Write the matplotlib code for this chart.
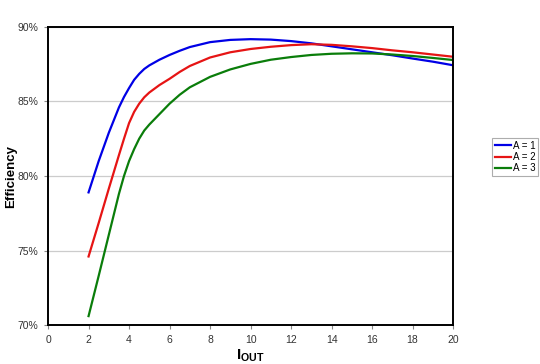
import matplotlib
matplotlib.use("Agg")
import matplotlib.pyplot as plt
from matplotlib.ticker import FuncFormatter

plt.rcParams['font.family'] = ['Liberation Sans', 'DejaVu Sans']
plt.rcParams['mathtext.fontset'] = 'custom'
plt.rcParams['mathtext.rm'] = 'Liberation Sans'
plt.rcParams['mathtext.bf'] = 'Liberation Sans:bold'

# output current (x) and efficiency in % for each setting
iout = [2, 2.5, 3, 3.5, 3.75, 4, 4.25, 4.5, 4.75, 5, 5.5, 6, 6.5, 7, 8, 9,
        10, 11, 12, 13, 14, 15, 16, 17, 18, 19, 20]
eff_a1 = [78.9, 81.0, 82.9, 84.6, 85.3, 85.9, 86.45, 86.85, 87.18, 87.42,
          87.8, 88.12, 88.4, 88.65, 88.98, 89.13, 89.18, 89.15, 89.05,
          88.9, 88.7, 88.5, 88.3, 88.1, 87.88, 87.67, 87.43]
eff_a2 = [74.6, 76.85, 79.15, 81.4, 82.5, 83.55, 84.3, 84.85, 85.28, 85.6,
          86.1, 86.52, 86.98, 87.38, 87.95, 88.3, 88.52, 88.67, 88.78,
          88.84, 88.8, 88.7, 88.58, 88.43, 88.3, 88.15, 88.0]
eff_a3 = [70.6, 73.3, 76.05, 78.8, 80.0, 81.0, 81.8, 82.5, 83.05, 83.45,
          84.15, 84.85, 85.45, 85.95, 86.65, 87.15, 87.52, 87.8, 87.98,
          88.12, 88.2, 88.23, 88.22, 88.15, 88.05, 87.92, 87.78]
labels = ["A = 1", "A = 2", "A = 3"]
colors = ["#0000e6", "#e61414", "#0a7d0a"]

fig = plt.figure(figsize=(5.4, 3.64), dpi=100)
ax = fig.add_axes([0.089, 0.107, 0.75, 0.819])

for ys, lab, col in zip([eff_a1, eff_a2, eff_a3], labels, colors):
    ax.plot(iout, ys, color=col, lw=1.6, label=lab)

ax.set_xlim(0, 20)
ax.set_ylim(70, 90)
ax.set_xticks(range(0, 21, 2))
ax.set_yticks([70, 75, 80, 85, 90])
ax.yaxis.set_major_formatter(FuncFormatter(lambda v, p: f"{v:.0f}%"))
ax.grid(axis='y', color='#cccccc', lw=0.9)
ax.set_axisbelow(True)
for s in ax.spines.values():
    s.set_linewidth(1.4)
    s.set_color('black')
ax.tick_params(direction='out', length=3, width=0.8, color='#888888',
               labelsize=7.5, labelcolor='#333333', pad=4)

fig.text(11 / 540, 0.515, "Efficiency", rotation=90, ha='center',
         va='center', fontsize=9.5, fontweight='bold')
ax.set_xlabel(r"$\mathbf{I_{OUT}}$", fontsize=11, labelpad=2)

leg = fig.legend(loc='upper left', bbox_to_anchor=(0.912, 0.622),
                 fontsize=7, frameon=True, fancybox=False, edgecolor='#999999',
                 handlelength=1.6, handletextpad=0.2, borderpad=0.3,
                 labelspacing=0.15, borderaxespad=0)
leg.get_frame().set_linewidth(0.8)

fig.savefig("out.png", dpi=100)
